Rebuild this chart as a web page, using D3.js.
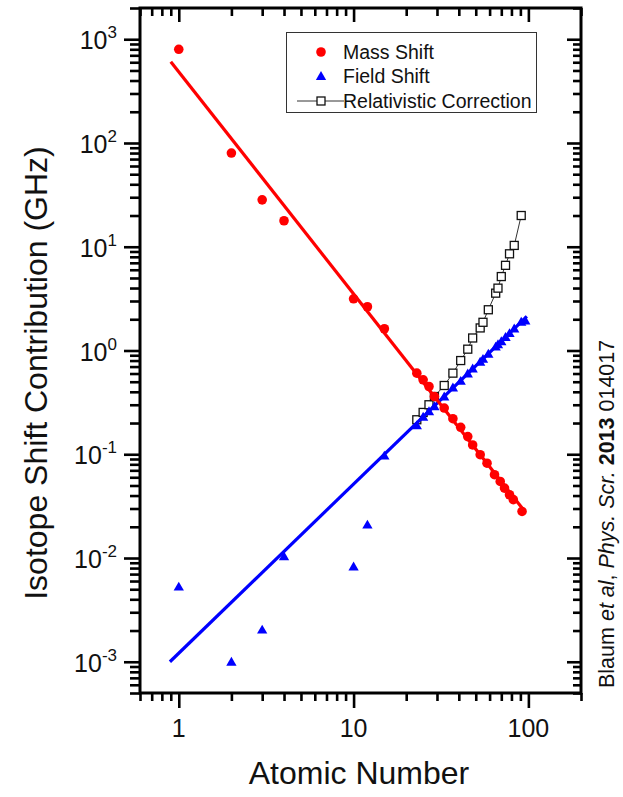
<!DOCTYPE html>
<html>
<head>
<meta charset="utf-8">
<script src="https://cdn.jsdelivr.net/npm/d3@7"></script>
<style>
  html, body { margin: 0; padding: 0; background: #fff; }
  svg { display: block; font-family: 'Liberation Sans', Arial, sans-serif; }
</style>
</head>
<body>
<svg id="chart" width="623" height="797"></svg>
<script>
// ── data ───────────────────────────────────────────────────
const massZ   = [1, 2, 3, 4, 10, 12, 15, 23, 25, 27, 29, 33, 37, 41, 45, 48, 53, 58, 64, 69, 73, 78, 82, 92];
const massGHz = [800, 80, 28.3, 17.8, 3.15, 2.64, 1.62, 0.605, 0.522, 0.45, 0.36, 0.279, 0.22, 0.182, 0.148,
                 0.123, 0.099, 0.082, 0.0635, 0.0547, 0.0472, 0.0407, 0.0365, 0.0281];

const fieldZ   = [1, 2, 3, 4, 10, 12, 15, 23, 25, 27, 29, 33, 37, 41, 45, 48, 53, 55, 59, 65, 67, 70, 74, 78, 83, 91, 96];
const fieldGHz = [0.0053, 0.001, 0.00204, 0.0104, 0.0083, 0.021, 0.097, 0.19, 0.23, 0.26, 0.29, 0.36, 0.44,
                  0.51, 0.6, 0.67, 0.78, 0.83, 0.93, 1.09, 1.15, 1.23, 1.35, 1.47, 1.63, 1.89, 1.95];

const relZ   = [23, 25, 27, 29, 33, 37, 41, 45, 48, 53, 55, 59, 65, 67, 70, 74, 78, 83, 91];
const relGHz = [0.215, 0.253, 0.3, 0.36, 0.46, 0.605, 0.8, 1.03, 1.32, 1.65, 1.87, 2.47, 3.57, 3.99,
                5.16, 6.62, 8.55, 10.3, 20.0];

// fitted power-law lines, drawn between their two end points
const massFit  = [[0.9, 608], [93, 0.0297]];
const fieldFit = [[0.89, 0.001], [98, 2.13]];

const xMajor = [1, 10, 100];
const xTickLabels = ['1', '10', '100'];
const yMajor = [1e-3, 1e-2, 1e-1, 1, 10, 100, 1000];
const yTickExps = ['-3', '-2', '-1', '0', '1', '2', '3'];

const legendNames = ['Mass Shift', 'Field Shift', 'Relativistic Correction'];

// ── layout ─────────────────────────────────────────────────
const L = 140, T = 8, R = 581, B = 693;
const svg = d3.select('#chart');

const x = d3.scaleLog().domain([0.6, 200]).range([L, R]);
const y = d3.scaleLog().domain([5e-4, 2000]).range([B, T]);

// minor tick positions: 2..9 of each decade inside the domain
const minorOf = (lo, hi) => {
  const out = [];
  for (let e = Math.floor(Math.log10(lo)) ; e <= Math.ceil(Math.log10(hi)); e++) {
    for (let m = 2; m <= 9; m++) {
      const v = m * Math.pow(10, e);
      if (v >= lo * 0.999 && v <= hi * 1.001) out.push(v);
    }
  }
  return out;
};
const xMinor = minorOf(0.6, 200);
const yMinor = minorOf(5e-4, 2000);

function tickAxis(axis, transform) {
  const g = svg.append('g').attr('transform', transform).call(axis);
  g.select('.domain').remove();
  g.selectAll('line').attr('stroke', '#000').attr('stroke-width', 2.6);
  return g;
}

// bottom (outward) and top (inward)
tickAxis(d3.axisBottom(x).tickValues(xMinor).tickSize(8).tickFormat(''), `translate(0,${B})`);
tickAxis(d3.axisBottom(x).tickValues(xMajor).tickSize(15).tickFormat(''), `translate(0,${B})`);
tickAxis(d3.axisBottom(x).tickValues(xMinor).tickSize(8).tickFormat(''), `translate(0,${T})`);
tickAxis(d3.axisBottom(x).tickValues(xMajor).tickSize(14).tickFormat(''), `translate(0,${T})`);

// left (outward) and right (inward)
tickAxis(d3.axisLeft(y).tickValues(yMinor).tickSize(10).tickFormat(''), `translate(${L},0)`);
tickAxis(d3.axisLeft(y).tickValues(yMajor).tickSize(16).tickFormat(''), `translate(${L},0)`);
tickAxis(d3.axisLeft(y).tickValues(yMinor).tickSize(8).tickFormat(''), `translate(${R},0)`);
tickAxis(d3.axisLeft(y).tickValues(yMajor).tickSize(14).tickFormat(''), `translate(${R},0)`);

// frame
svg.append('rect')
  .attr('x', L).attr('y', T).attr('width', R - L).attr('height', B - T)
  .attr('fill', 'none').attr('stroke', '#000').attr('stroke-width', 3);

// tick labels
svg.append('g').selectAll('text')
  .data(xMajor)
  .join('text')
  .attr('x', d => x(d)).attr('y', 737)
  .attr('text-anchor', 'middle')
  .attr('font-size', 25).attr('fill', '#111')
  .text((d, i) => xTickLabels[i]);

const yl = svg.append('g').selectAll('text')
  .data(yMajor)
  .join('text')
  .attr('x', 117).attr('y', d => y(d) + 10)
  .attr('text-anchor', 'end')
  .attr('font-size', 25).attr('fill', '#111');
yl.append('tspan').text('10');
yl.append('tspan').attr('dy', -11).attr('font-size', 17).text((d, i) => yTickExps[i]);

// axis titles
svg.append('text')
  .attr('x', 359).attr('y', 784)
  .attr('text-anchor', 'middle')
  .attr('font-size', 32).attr('fill', '#111')
  .text('Atomic Number');

svg.append('text')
  .attr('transform', 'translate(47,373) rotate(-90)')
  .attr('text-anchor', 'middle')
  .attr('font-size', 32).attr('fill', '#111')
  .text('Isotope Shift Contribution (GHz)');

// citation, right side
const cite = svg.append('text')
  .attr('transform', 'translate(614,688) rotate(-90)')
  .attr('font-size', 21.5).attr('fill', '#111');
cite.append('tspan').text('Blaum ');
cite.append('tspan').attr('font-style', 'italic').text('et al');
cite.append('tspan').text(', ');
cite.append('tspan').attr('font-style', 'italic').text('Phys. Scr.');
cite.append('tspan').text(' ');
cite.append('tspan').attr('font-weight', 'bold').text('2013');
cite.append('tspan').text(' 014017');

// ── series ─────────────────────────────────────────────────
const plot = svg.append('g');
const line = d3.line().x(d => x(d[0])).y(d => y(d[1]));

// relativistic correction: line + open squares
const rel = d3.zip(relZ, relGHz);
plot.append('path')
  .attr('d', line(rel))
  .attr('fill', 'none').attr('stroke', '#333').attr('stroke-width', 1);
plot.append('g').selectAll('rect')
  .data(rel)
  .join('rect')
  .attr('x', d => x(d[0]) - 4).attr('y', d => y(d[1]) - 4)
  .attr('width', 8).attr('height', 8)
  .attr('fill', '#fff').attr('stroke', '#111').attr('stroke-width', 1.3);

// field shift
const tri = d3.symbol(d3.symbolTriangle, 46);
plot.append('g').selectAll('path')
  .data(d3.zip(fieldZ, fieldGHz))
  .join('path')
  .attr('d', tri)
  .attr('transform', d => `translate(${x(d[0])},${y(d[1]) + 1})`)
  .attr('fill', '#0000ff');
plot.append('path')
  .attr('d', line(fieldFit))
  .attr('fill', 'none').attr('stroke', '#0000ff').attr('stroke-width', 3.2);

// mass shift
plot.append('path')
  .attr('d', line(massFit))
  .attr('fill', 'none').attr('stroke', '#ff0000').attr('stroke-width', 3.2);
plot.append('g').selectAll('circle')
  .data(d3.zip(massZ, massGHz))
  .join('circle')
  .attr('cx', d => x(d[0])).attr('cy', d => y(d[1]))
  .attr('r', 4.8)
  .attr('fill', '#ff0000');

// ── legend ─────────────────────────────────────────────────
const leg = svg.append('g');
leg.append('rect')
  .attr('x', 286.5).attr('y', 32.5).attr('width', 250).attr('height', 80)
  .attr('fill', '#fff').attr('stroke', '#333').attr('stroke-width', 1);

const legY = [52, 76, 101];
leg.append('circle').attr('cx', 321).attr('cy', legY[0]).attr('r', 4.8).attr('fill', '#ff0000');
leg.append('path').attr('d', tri).attr('transform', `translate(321,${legY[1] + 1})`).attr('fill', '#0000ff');
leg.append('line')
  .attr('x1', 297).attr('x2', 344).attr('y1', legY[2]).attr('y2', legY[2])
  .attr('stroke', '#333').attr('stroke-width', 1);
leg.append('rect')
  .attr('x', 317).attr('y', legY[2] - 4).attr('width', 8).attr('height', 8)
  .attr('fill', '#fff').attr('stroke', '#111').attr('stroke-width', 1.3);

leg.selectAll('text.lab')
  .data(legendNames)
  .join('text')
  .attr('class', 'lab')
  .attr('x', 343).attr('y', (d, i) => legY[i] + 7)
  .attr('font-size', 19.5).attr('fill', '#111')
  .text(d => d);
</script>
</body>
</html>
